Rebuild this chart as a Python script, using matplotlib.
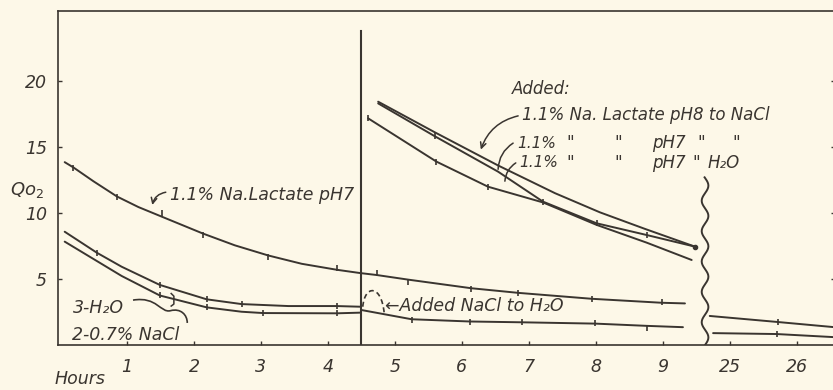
import numpy as np
import matplotlib.pyplot as plt
from matplotlib.patches import PathPatch
from matplotlib.path import Path

# hours after start, Qo2 values
lact7_h = [0.07, 0.2, 0.5, 0.85, 1.17, 1.52, 2.13, 2.61, 3.11, 3.61, 4.13, 4.48, 4.73, 5.2, 6.14, 6.84, 7.94, 8.98, 9.33]
lact7_q = [13.85, 13.45, 12.4, 11.25, 10.45, 9.72, 8.45, 7.55, 6.78, 6.15, 5.7, 5.45, 5.3, 4.95, 4.3, 3.95, 3.5, 3.2, 3.15]
lact7_mark_h = [0.2, 0.85, 1.52, 2.13, 3.11, 4.13, 4.73, 5.2, 6.14, 6.84, 7.94, 8.98]
lact7_mark_q = [13.4, 11.2, 9.98, 8.33, 6.69, 5.85, 5.45, 4.75, 4.25, 3.92, 3.5, 3.23]

h2o_h = [0.07, 0.55, 0.92, 1.49, 2.19, 2.71, 3.41, 4.13, 4.48]
h2o_q = [8.58, 6.99, 5.93, 4.55, 3.46, 3.1, 2.95, 2.95, 2.9]
h2o_mark_h = [0.55, 1.49, 2.19, 2.71, 4.13]
h2o_mark_q = [6.99, 4.55, 3.46, 3.1, 2.95]

nacl_h = [0.07, 0.92, 1.49, 2.19, 2.71, 3.03, 4.13, 4.48]
nacl_q = [7.83, 5.23, 3.75, 2.85, 2.52, 2.42, 2.4, 2.45]
nacl_mark_h = [1.49, 2.19, 3.03, 4.13]
nacl_mark_q = [3.75, 2.85, 2.42, 2.4]

# after NaCl was added to the H2O vessel
mixed_h = [4.5, 5.25, 6.12, 6.89, 7.99, 8.76, 9.3]
mixed_q = [2.65, 1.95, 1.78, 1.72, 1.62, 1.45, 1.35]
mixed_mark_h = [5.25, 6.12, 6.89, 7.99, 8.76]
mixed_mark_q = [1.9, 1.77, 1.72, 1.65, 1.3]

# lactate added at 4.5 h
add8_nacl_h = [4.75, 5.6, 6.54, 7.39, 8.06, 8.73, 9.48]
add8_nacl_q = [18.43, 16.1, 13.6, 11.5, 10.05, 8.8, 7.45]
add7_nacl_h = [4.75, 5.6, 6.54, 7.21, 8.01, 8.76, 9.48]
add7_nacl_q = [18.3, 15.8, 13.13, 10.86, 9.22, 8.33, 7.45]
add7_nacl_mark_h = [5.6, 7.21, 8.01, 8.76]
add7_nacl_mark_q = [15.8, 10.86, 9.22, 8.33]
add7_h2o_h = [4.6, 5.62, 6.39, 7.21, 8.01, 8.76, 9.43]
add7_h2o_q = [17.17, 13.89, 11.99, 10.8, 9.1, 7.75, 6.44]
add7_h2o_mark_h = [4.6, 5.62, 6.39]
add7_h2o_mark_q = [17.17, 13.89, 11.99]

# next day
late_up_h = [24.70, 25.72, 26.54]
late_up_q = [2.2, 1.74, 1.36]
late_lo_h = [24.75, 25.70, 26.54]
late_lo_q = [0.9, 0.83, 0.6]

tick_hours = [1, 2, 3, 4, 5, 6, 7, 8, 9, 25, 26]
ytick_vals = [5, 10, 15, 20]


def brk(h):
    h = np.asarray(h, dtype=float)
    return np.where(h > 20, h - 15, h)


ink = '#3a3530'
paper = '#fdf8e8'
lw = 1.4

fig = plt.figure(figsize=(8.33, 3.9), dpi=100)
fig.patch.set_facecolor(paper)
ax = fig.add_axes([58 / 833, 45 / 390, 777 / 833, 334 / 390])
ax.set_facecolor(paper)


def curve(h, q, mh=None, mq=None):
    ax.plot(brk(h), q, color=ink, lw=lw, solid_capstyle='round', solid_joinstyle='round')
    if mh is not None:
        ax.plot(brk(mh), mq, ls='none', marker='|', ms=5, mew=1.2, color=ink)


curve(lact7_h, lact7_q, lact7_mark_h, lact7_mark_q)
curve(h2o_h, h2o_q, h2o_mark_h, h2o_mark_q)
curve(nacl_h, nacl_q, nacl_mark_h, nacl_mark_q)
curve(mixed_h, mixed_q, mixed_mark_h, mixed_mark_q)
curve(add8_nacl_h, add8_nacl_q)
ax.plot(brk(add8_nacl_h[-1:]), add8_nacl_q[-1:], 'o', ms=3, color=ink)
curve(add7_nacl_h, add7_nacl_q, add7_nacl_mark_h, add7_nacl_mark_q)
curve(add7_h2o_h, add7_h2o_q, add7_h2o_mark_h, add7_h2o_mark_q)
curve(late_up_h, late_up_q, late_up_h[1:2], late_up_q[1:2])
curve(late_lo_h, late_lo_q, late_lo_h[1:2], late_lo_q[1:2])

# time of additions
ax.plot([4.5, 4.5], [0, 23.8], color=ink, lw=1.5)

# axis break
yy = np.linspace(0, 12.7, 200)
ax.plot(9.63 + 0.05 * np.sin(yy * 2 * np.pi / 2.3), yy, color=ink, lw=1.4)

# dashed bump at the NaCl addition
bump = Path([(4.52, 2.9), (4.55, 4.6), (4.8, 4.6), (4.84, 2.4)],
            [Path.MOVETO, Path.CURVE4, Path.CURVE4, Path.CURVE4])
ax.add_patch(PathPatch(bump, fill=False, ls=(0, (3, 2)), lw=1.2, color=ink))

ax.set_xlim(-0.03, 11.57)
ax.set_ylim(0, 25.3)
ax.set_xticks(brk(tick_hours))
ax.set_xticklabels([str(t) for t in tick_hours])
ax.set_yticks(ytick_vals)
ax.tick_params(direction='in', length=3, width=1, color=ink, labelcolor=ink,
               labelsize=12.5, right=True, labelright=False)
ax.tick_params(axis='x', pad=9)
ax.tick_params(axis='y', pad=8)
for lab in ax.get_xticklabels() + ax.get_yticklabels():
    lab.set_style('italic')
for s in ['left', 'top', 'bottom']:
    ax.spines[s].set_color(ink)
    ax.spines[s].set_linewidth(1.2)
ax.spines['right'].set_visible(False)

tk = dict(color=ink, fontsize=12.5, style='italic')
tk2 = dict(color=ink, fontsize=12, style='italic')
fig.text(27 / 833, 1 - 190 / 390, r'$\mathit{Qo_2}$', ha='center', va='center', color=ink, fontsize=13)
fig.text(80 / 833, 1 - 379 / 390, 'Hours', ha='center', va='center', **tk)

ax.text(1.64, 11.4, '1.1% Na.Lactate pH7', ha='left', va='center', **tk)
ax.annotate('', xy=(1.37, 10.4), xytext=(1.62, 11.6),
            arrowprops=dict(arrowstyle='->', color=ink, lw=1.1, connectionstyle='arc3,rad=0.4'))

ax.text(0.19, 2.8, '3-H₂O', ha='left', va='center', **tk)
ax.text(0.18, 0.76, '2-0.7% NaCl', ha='left', va='center', **tk)
brace = Path([(1.09, 3.4), (1.45, 3.7), (1.5, 2.4), (1.65, 2.6), (1.8, 2.8), (1.9, 2.3), (1.9, 1.67)],
             [Path.MOVETO, Path.CURVE4, Path.CURVE4, Path.CURVE4, Path.CURVE4, Path.CURVE4, Path.CURVE4])
ax.add_patch(PathPatch(brace, fill=False, lw=1.2, color=ink))
ax.plot([1.66, 1.7, 1.7, 1.66], [3.9, 3.7, 3.1, 2.95], color=ink, lw=1.1)

ax.text(4.85, 2.95, '←Added NaCl to H₂O', ha='left', va='center', **tk)

ax.text(6.75, 19.4, 'Added:', ha='left', va='center', **tk2)
ax.text(6.9, 17.4, '1.1% Na. Lactate pH8 to NaCl', ha='left', va='center', **tk2)
ditto = dict(ha='center', va='center', **tk2)
ax.text(6.82, 15.3, '1.1%', ha='left', va='center', color=ink, fontsize=11, style='italic')
ax.text(6.86, 13.8, '1.1%', ha='left', va='center', color=ink, fontsize=11, style='italic')
for x in [7.61, 8.33, 9.58, 10.1]:
    ax.text(x, 15.3, '"', **ditto)
for x in [7.61, 8.33, 9.5]:
    ax.text(x, 13.8, '"', **ditto)
ax.text(8.84, 15.3, 'pH7', ha='left', va='center', **tk2)
ax.text(8.84, 13.8, 'pH7', ha='left', va='center', **tk2)
ax.text(9.66, 13.8, 'H₂O', ha='left', va='center', **tk2)
ax.annotate('', xy=(6.27, 14.6), xytext=(6.88, 17.4),
            arrowprops=dict(arrowstyle='->', color=ink, lw=1.1, connectionstyle='arc3,rad=0.3'))
ax.annotate('', xy=(6.54, 13.1), xytext=(6.8, 15.4),
            arrowprops=dict(arrowstyle='-', color=ink, lw=1.1, connectionstyle='arc3,rad=0.3'))
ax.annotate('', xy=(6.64, 12.2), xytext=(6.84, 13.9),
            arrowprops=dict(arrowstyle='-', color=ink, lw=1.1, connectionstyle='arc3,rad=0.3'))

fig.savefig('out.png', dpi=100, facecolor=paper)
